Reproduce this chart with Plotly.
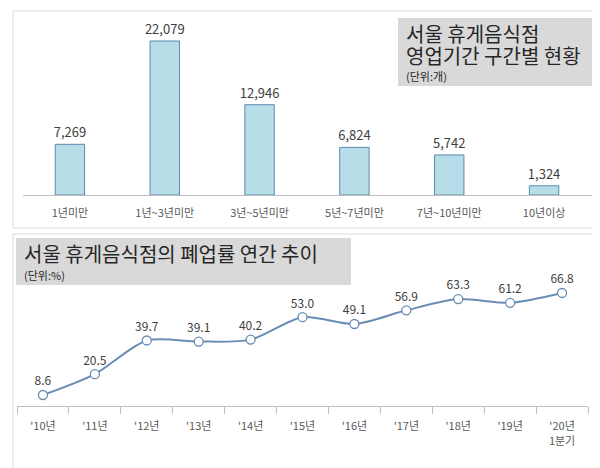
import plotly.graph_objects as go

bar_cats = ["1년미만", "1년~3년미만", "3년~5년미만", "5년~7년미만", "7년~10년미만", "10년이상"]
bar_vals = [7269, 22079, 12946, 6824, 5742, 1324]
bar_text = ["7,269", "22,079", "12,946", "6,824", "5,742", "1,324"]

years = ["'10년", "'11년", "'12년", "'13년", "'14년", "'15년", "'16년", "'17년", "'18년", "'19년", "'20년<br>1분기"]
rates = [8.6, 20.5, 39.7, 39.1, 40.2, 53.0, 49.1, 56.9, 63.3, 61.2, 66.8]
rate_text = ["8.6", "20.5", "39.7", "39.1", "40.2", "53.0", "49.1", "56.9", "63.3", "61.2", "66.8"]

F = "Noto Sans CJK KR"
W, H = 600, 468
def py(p): return 1 - p / H
def px(p): return p / W

fig = go.Figure()
fig.add_trace(go.Bar(x=list(range(len(bar_vals))), y=bar_vals, text=bar_text, textposition="outside",
                     constraintext="none",
                     textfont=dict(size=13, color="#404040", family=F), cliponaxis=False,
                     width=0.31, marker=dict(color="#B7DDE8", line=dict(color="#5A8AAE", width=1)),
                     xaxis="x", yaxis="y"))
fig.add_trace(go.Scatter(x=list(range(len(rates))), y=rates, text=rate_text, mode="lines+markers+text",
                         textposition="top center", textfont=dict(size=12, color="#404040", family=F),
                         line=dict(color="#6A8DB5", width=2, shape="spline", smoothing=0.8),
                         marker=dict(size=9, color="white", line=dict(color="#6A8DB5", width=1.3)),
                         cliponaxis=False, xaxis="x2", yaxis="y2"))

fig.update_layout(
    width=W, height=H, margin=dict(l=0, r=0, t=0, b=0), showlegend=False,
    paper_bgcolor="white", plot_bgcolor="rgba(0,0,0,0)", font=dict(family=F, color="#404040"),
    xaxis=dict(domain=[px(14.5), px(583.5)], anchor="y", range=[-0.5, 5.5], tickvals=list(range(6)),
               ticktext=bar_cats, showgrid=False, zeroline=False, showline=True, linecolor="#BFBFBF",
               tickfont=dict(size=11, color="#595959"), ticks="", ticklabelstandoff=8),
    yaxis=dict(domain=[py(187), py(10)], range=[0, 22079 * 177 / 154], visible=False),
    xaxis2=dict(domain=[px(9), px(580)], anchor="y2", range=[-0.5, 10.5], tickvals=list(range(11)),
                ticktext=years, showgrid=False, zeroline=False, showline=True, linecolor="#BFBFBF",
                tickfont=dict(size=11, color="#595959"), ticks="", ticklabelstandoff=10,
                minor=dict(ticks="outside", tick0=-0.5, dtick=1, ticklen=7, tickcolor="#BFBFBF")),
    yaxis2=dict(domain=[py(398), py(240)], range=[8.6 - 11 / 1.753, 8.6 - 11 / 1.753 + 158 / 1.753], visible=False),
)

shapes = [
    dict(type="rect", xref="paper", yref="paper", x0=px(5), x1=px(595), y0=py(220), y1=py(3),
         line=dict(color="#D9D9D9", width=1)),
    dict(type="rect", xref="paper", yref="paper", x0=px(5), x1=px(595), y0=py(463), y1=py(226),
         line=dict(color="#D9D9D9", width=1)),
    dict(type="rect", xref="paper", yref="paper", x0=px(390), x1=px(588), y0=py(78), y1=py(10),
         fillcolor="#D9D9D9", line=dict(width=0), layer="above"),
    dict(type="rect", xref="paper", yref="paper", x0=px(8), x1=px(343), y0=py(277), y1=py(230),
         fillcolor="#D9D9D9", line=dict(width=0), layer="below"),
]
fig.update_layout(shapes=shapes)

ann = [
    (396, 25, "서울 휴게음식점", 20),
    (396, 48, "영업기간 구간별 현황", 20),
    (396, 68, "(단위:개)", 11),
    (14, 245, "서울 휴게음식점의 폐업률 연간 추이", 20),
    (14, 267, "(단위:%)", 11),
]
for x, y, t, s in ann:
    fig.add_annotation(xref="paper", yref="paper", x=px(x), y=py(y), text=t, showarrow=False,
                       xanchor="left", yanchor="middle", font=dict(size=s, color="#262626", family=F))

fig.write_html("out.html")
